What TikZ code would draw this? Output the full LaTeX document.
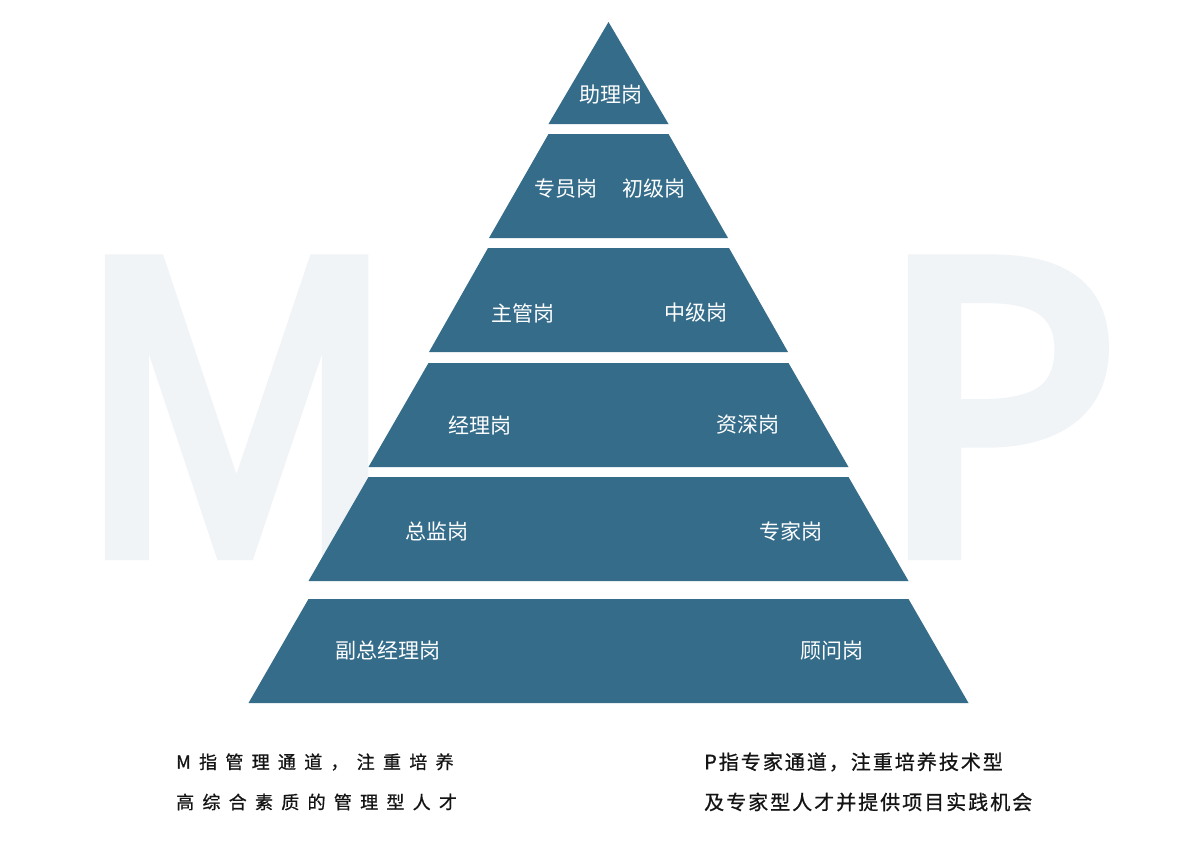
\documentclass[tikz,border=0pt]{standalone}
\usepackage{fontspec}
\newfontfamily\cjk{Noto Sans CJK SC}
\newfontfamily\cjkL[LetterSpace=46,FakeBold=0.8]{Noto Sans CJK SC}
\newfontfamily\cjkR[LetterSpace=10,FakeBold=0.8]{Noto Sans CJK SC}
\newfontfamily\bigf[FakeBold=5]{Open Sans}
\definecolor{pyr}{RGB}{52,108,138}
\definecolor{ghost}{RGB}{240,244,247}
\definecolor{ink}{RGB}{20,20,20}
\begin{document}
\begin{tikzpicture}[x=1pt,y=-1pt,
  lay/.style={fill=pyr},
  lbl/.style={text=white,font=\cjk\fontsize{21}{21}\selectfont,inner sep=0},
  big/.style={text=ghost,font=\bigf\fontsize{400}{400}\selectfont,inner sep=0,anchor=base,text depth=0pt},
  noteL/.style={text=ink,font=\cjkL\fontsize{18}{18}\selectfont,inner sep=0,anchor=west},
  noteR/.style={text=ink,font=\cjkR\fontsize{20}{20}\selectfont,inner sep=0,anchor=west}]
\useasboundingbox (0,0) rectangle (1200,849);
\fill[white] (0,0) rectangle (1200,849);
% ghost letters
\node[big,xscale=0.87] (M) at (236.5,550) {M};
\node[big] (P) at (999,550) {P};
% pyramid layers
\fill[lay] (608.5,22) -- (668.5,124) -- (548.5,124) -- cycle;
\fill[lay] (548.5,134) -- (668.5,134) -- (728,238) -- (489,238) -- cycle;
\fill[lay] (488,248) -- (729,248) -- (788,352) -- (429,352) -- cycle;
\fill[lay] (428.5,363) -- (788.5,363) -- (848.5,467) -- (368.5,467) -- cycle;
\fill[lay] (368.5,477) -- (848.5,477) -- (908.5,581) -- (308.5,581) -- cycle;
\fill[lay] (308.5,599) -- (908.5,599) -- (968.5,703) -- (248.5,703) -- cycle;
% labels
\node[lbl] (l1) at (610.5,95) {助理岗};
\node[lbl] (l2a) at (565.5,189) {专员岗};
\node[lbl] (l2b) at (653.5,189) {初级岗};
\node[lbl] (l3a) at (522.5,313) {主管岗};
\node[lbl] (l3b) at (695.5,313) {中级岗};
\node[lbl] (l4a) at (479.5,425) {经理岗};
\node[lbl] (l4b) at (747.5,425) {资深岗};
\node[lbl] (l5a) at (437,531) {总监岗};
\node[lbl] (l5b) at (791,531) {专家岗};
\node[lbl] (l6a) at (388,651) {副总经理岗};
\node[lbl] (l6b) at (832,651) {顾问岗};
% notes
\node[noteL] (n1) at (176,762) {M指管理通道，注重培养};
\node[noteL] (n2) at (176,802) {高综合素质的管理型人才};
\node[noteR] (n3) at (704,762) {P指专家通道，注重培养技术型};
\node[noteR] (n4) at (704,802) {及专家型人才并提供项目实践机会};
\end{tikzpicture}
\end{document}
